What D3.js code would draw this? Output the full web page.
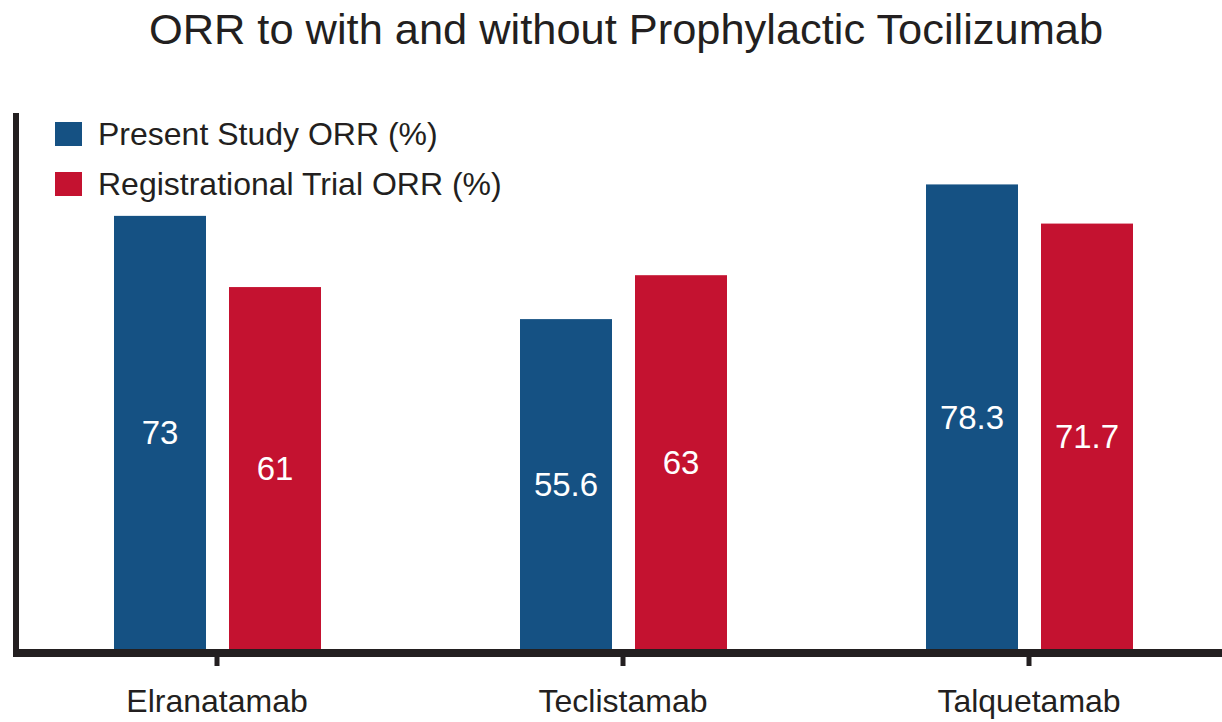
<!DOCTYPE html>
<html>
<head>
<meta charset="utf-8">
<script src="https://cdn.jsdelivr.net/npm/d3@7"></script>
<style>
  html, body { margin: 0; padding: 0; background: #fff; }
  svg { display: block; font-family: "Liberation Sans", Arial, Helvetica, sans-serif; }
</style>
</head>
<body>
<svg id="chart" width="1222" height="722"></svg>
<script>
const categories = ["Elranatamab", "Teclistamab", "Talquetamab"];
const seriesNames = ["Present Study ORR (%)", "Registrational Trial ORR (%)"];
const presentStudy = [73, 55.6, 78.3];
const registrational = [61, 63, 71.7];
const seriesColors = ["#155183", "#c41230"];
const titleText = "ORR to with and without Prophylactic Tocilizumab";

const svg = d3.select("#chart");
const ink = "#231f20";

const x0 = d3.scaleBand().domain(categories).range([14, 14 + 3 * 406]).padding(0);
const x1 = d3.scaleBand().domain(seriesNames).range([100, 307]).paddingInner(0.2).paddingOuter(0);
const y = d3.scaleLinear().domain([0, 90]).range([649, 115]);

const data = categories.map((c, i) => ({
  category: c,
  values: [
    { series: seriesNames[0], value: presentStudy[i] },
    { series: seriesNames[1], value: registrational[i] }
  ]
}));
const color = d3.scaleOrdinal().domain(seriesNames).range(seriesColors);

// Title
svg.append("text")
  .attr("x", 626).attr("y", 44)
  .attr("text-anchor", "middle")
  .attr("fill", ink)
  .attr("font-size", 43.4)
  .text(titleText);

// Bars
const groups = svg.selectAll("g.grp").data(data).join("g")
  .attr("class", "grp")
  .attr("transform", d => `translate(${x0(d.category)},0)`);

groups.selectAll("rect").data(d => d.values).join("rect")
  .attr("x", d => x1(d.series))
  .attr("width", x1.bandwidth())
  .attr("y", d => y(d.value))
  .attr("height", d => y(0) - y(d.value))
  .attr("fill", d => color(d.series));

groups.selectAll("text.val").data(d => d.values).join("text")
  .attr("class", "val")
  .attr("x", d => x1(d.series) + x1.bandwidth() / 2)
  .attr("y", d => (y(d.value) + y(0)) / 2)
  .attr("dy", "0.36em")
  .attr("text-anchor", "middle")
  .attr("fill", "#fff")
  .attr("font-size", 33)
  .text(d => d.value);

// X axis
const xAxis = d3.axisBottom(x0).tickSize(13).tickSizeOuter(0).tickPadding(23);
const gx = svg.append("g").attr("transform", `translate(0,${y(0) + 4})`).call(xAxis);
gx.select(".domain").remove();
gx.selectAll(".tick line").attr("stroke", ink).attr("stroke-width", 5);
gx.selectAll(".tick text").attr("fill", ink).attr("font-size", 32)
  .attr("font-family", "\"Liberation Sans\", Arial, sans-serif");
svg.append("line")
  .attr("x1", 13).attr("x2", 1222)
  .attr("y1", y(0) + 4).attr("y2", y(0) + 4)
  .attr("stroke", ink).attr("stroke-width", 8);

// Y axis line
const yAxis = d3.axisLeft(y).tickValues([]).tickSizeOuter(0);
const gy = svg.append("g").attr("transform", "translate(16,0)").call(yAxis);
gy.select(".domain").attr("stroke", ink).attr("stroke-width", 6)
  .attr("d", `M0,${y(90) - 2}V${y(0) + 8}`);

// Legend
const legend = svg.append("g").attr("transform", "translate(55,122)");
const li = legend.selectAll("g").data(seriesNames).join("g")
  .attr("transform", (d, i) => `translate(0,${i * 50})`);
li.append("rect").attr("width", 27).attr("height", 24).attr("fill", d => color(d));
li.append("text").attr("x", 43).attr("y", 23)
  .attr("fill", ink).attr("font-size", 32).text(d => d);
</script>
</body>
</html>
